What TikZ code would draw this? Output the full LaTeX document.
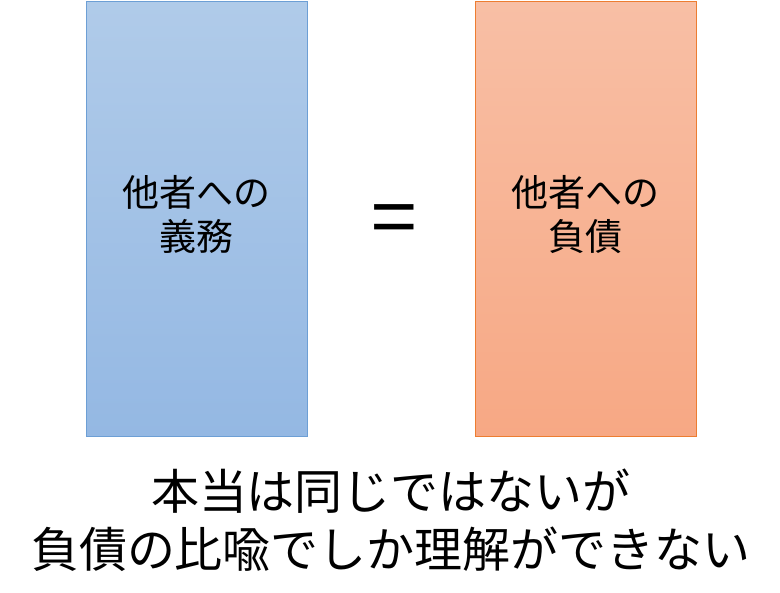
\documentclass[tikz,border=0pt]{standalone}
\usepackage{fontspec}
\setmainfont{Noto Sans CJK JP}
\usetikzlibrary{positioning}
\definecolor{blueTop}{HTML}{B0CBE9}
\definecolor{blueBot}{HTML}{94B8E3}
\definecolor{blueLine}{HTML}{6D9FD5}
\definecolor{orangeTop}{HTML}{F8BFA5}
\definecolor{orangeBot}{HTML}{F7A884}
\definecolor{orangeLine}{HTML}{ED7D31}
\tikzset{
	box/.style={draw, line width=1pt, minimum width=221pt, minimum height=435pt, inner sep=0pt},
	boxtext/.style={align=center, inner sep=0pt, font=\fontsize{37}{44}\selectfont},
	caption/.style={align=center, font=\fontsize{48}{58}\selectfont}
}

\begin{document}
\begin{tikzpicture}[x=1pt, y=-1pt]
			%%%%% START %%%%%
			
			\useasboundingbox (0, 0) rectangle (780, 593);
			
			\node[box, draw=blueLine, top color=blueTop, bottom color=blueBot] (obligation) at (196.5, 219.5) {};
			\node[box, draw=orangeLine, top color=orangeTop, bottom color=orangeBot] (debt) at (585.5, 219.5) {};
			\node[boxtext] (obligationText) at ([yshift=5pt]obligation.center) {他者への\\義務};
			\node[boxtext] (debtText) at ([yshift=5pt]debt.center) {他者への\\負債};
			
			\node[font=\fontsize{82}{82}\selectfont, inner sep=0pt] (equals) at (394, 226) {=};
			
			\node[caption] (text) at (391, 520) {本当は同じではないが\\負債の比喩でしか理解ができない};
			
			%%%%% END %%%%%
		\end{tikzpicture}
\end{document}
